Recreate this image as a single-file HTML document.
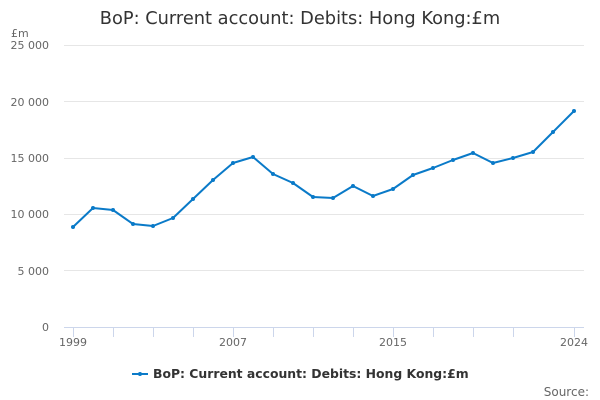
<!DOCTYPE html>
<html><head><meta charset="utf-8"><style>
html,body{margin:0;padding:0;background:#fff;}
svg{display:block;font-family:"DejaVu Sans","Liberation Sans",sans-serif;}
</style></head><body>
<svg width="600" height="400" xmlns="http://www.w3.org/2000/svg">
<text x="300" y="24" text-anchor="middle" font-size="17.8" fill="#333">BoP: Current account: Debits: Hong Kong:£m</text>
<text x="11" y="37" font-size="11" fill="#666">£m</text>
<g stroke="#e6e6e6" stroke-width="1">
<line x1="64" x2="584" y1="45.5" y2="45.5"/>
<line x1="64" x2="584" y1="101.5" y2="101.5"/>
<line x1="64" x2="584" y1="158.5" y2="158.5"/>
<line x1="64" x2="584" y1="214.5" y2="214.5"/>
<line x1="64" x2="584" y1="270.5" y2="270.5"/>
</g>
<g font-size="11" fill="#666" text-anchor="end">
<text x="49" y="49">25 000</text>
<text x="49" y="106">20 000</text>
<text x="49" y="162">15 000</text>
<text x="49" y="218">10 000</text>
<text x="49" y="275">5 000</text>
<text x="49" y="331">0</text>
</g>
<line x1="64" x2="584" y1="327.5" y2="327.5" stroke="#ccd6eb"/>
<g stroke="#ccd6eb">
<line x1="73.5" x2="73.5" y1="327" y2="337"/><line x1="113.5" x2="113.5" y1="327" y2="337"/>
<line x1="153.5" x2="153.5" y1="327" y2="337"/><line x1="193.5" x2="193.5" y1="327" y2="337"/>
<line x1="233.5" x2="233.5" y1="327" y2="337"/><line x1="273.5" x2="273.5" y1="327" y2="337"/>
<line x1="313.5" x2="313.5" y1="327" y2="337"/><line x1="353.5" x2="353.5" y1="327" y2="337"/>
<line x1="393.5" x2="393.5" y1="327" y2="337"/><line x1="433.5" x2="433.5" y1="327" y2="337"/>
<line x1="473.5" x2="473.5" y1="327" y2="337"/><line x1="513.5" x2="513.5" y1="327" y2="337"/>
<line x1="574.5" x2="574.5" y1="327" y2="337"/>
</g>
<g font-size="11" fill="#666" text-anchor="middle">
<text x="73" y="346">1999</text><text x="233" y="346">2007</text>
<text x="393" y="346">2015</text><text x="574" y="346">2024</text>
</g>
<polyline fill="none" stroke="#0a7ac8" stroke-width="2" stroke-linejoin="round" points="73,227 93,208 113,210 133,224 153,226 173,218 193,199 213,180 233,163 253,157 273,174 293,183 313,197 333,198 353,186 373,196 393,189 413,175 433,168 453,160 473,153 493,163 513,158 533,152 553,132 574,111"/>
<g fill="#0a7ac8">
<circle cx="73" cy="227" r="2"/><circle cx="93" cy="208" r="2"/><circle cx="113" cy="210" r="2"/><circle cx="133" cy="224" r="2"/><circle cx="153" cy="226" r="2"/><circle cx="173" cy="218" r="2"/><circle cx="193" cy="199" r="2"/><circle cx="213" cy="180" r="2"/><circle cx="233" cy="163" r="2"/><circle cx="253" cy="157" r="2"/><circle cx="273" cy="174" r="2"/><circle cx="293" cy="183" r="2"/><circle cx="313" cy="197" r="2"/><circle cx="333" cy="198" r="2"/><circle cx="353" cy="186" r="2"/><circle cx="373" cy="196" r="2"/><circle cx="393" cy="189" r="2"/><circle cx="413" cy="175" r="2"/><circle cx="433" cy="168" r="2"/><circle cx="453" cy="160" r="2"/><circle cx="473" cy="153" r="2"/><circle cx="493" cy="163" r="2"/><circle cx="513" cy="158" r="2"/><circle cx="533" cy="152" r="2"/><circle cx="553" cy="132" r="2"/><circle cx="574" cy="111" r="2"/>
</g>
<line x1="132" x2="148" y1="374" y2="374" stroke="#0a7ac8" stroke-width="2"/>
<circle cx="140" cy="374" r="2" fill="#0a7ac8"/>
<text x="153" y="378" font-size="12.4" font-weight="bold" fill="#333">BoP: Current account: Debits: Hong Kong:£m</text>
<text x="589" y="396" font-size="12" fill="#666" text-anchor="end">Source:</text>
</svg>
</body></html>
